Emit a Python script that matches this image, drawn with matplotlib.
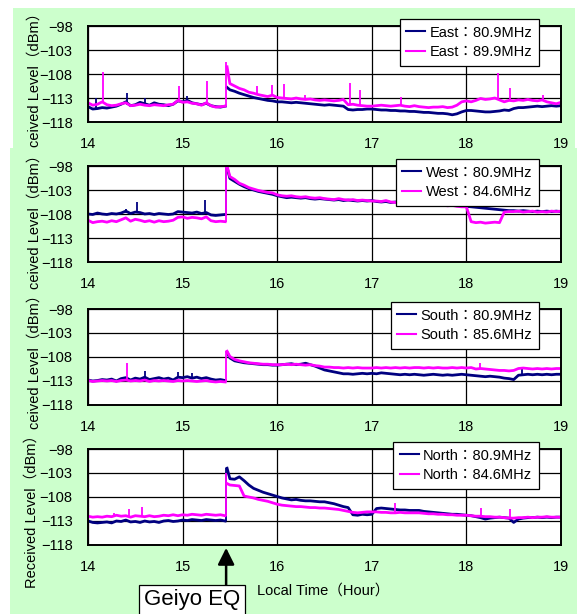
import numpy as np
import matplotlib
matplotlib.use('Agg')
import matplotlib.pyplot as plt
from matplotlib.patches import Rectangle

plt.rcParams['font.family'] = ['Liberation Sans', 'Noto Sans CJK JP', 'DejaVu Sans']

## data (local time in hours, level in dBm)

t_pre = np.arange(14.0, 15.451, 0.05)
t_post = np.concatenate([[15.47], np.arange(15.50, 19.001, 0.05)])
eq_time = 15.46

# East
east1_pre = [-114.8, -115.3, -115.2, -115.0, -115.1, -114.9, -114.7, -114.3, -113.8, -114.6,
             -114.4, -113.9, -114.2, -114.5, -114.0, -114.3, -114.4, -114.6, -114.3, -113.6,
             -113.8, -113.5, -114.0, -114.2, -114.4, -114.1, -114.6, -114.8, -114.9, -114.7]
east1_post = [-110.8,
              -111.3, -111.6, -112.0, -112.3, -112.6, -112.9, -113.1, -113.3, -113.5, -113.6,
              -113.8, -113.8, -113.9, -114.0, -113.9, -114.0, -114.1, -114.2, -114.3, -114.4,
              -114.5, -114.4, -114.5, -114.6, -114.7, -115.4, -115.5, -115.4, -115.4, -115.3,
              -115.3, -115.4, -115.5, -115.5, -115.6, -115.6, -115.7, -115.7, -115.8, -115.8,
              -115.9, -116.0, -116.0, -116.1, -116.2, -116.2, -116.3, -116.5, -116.3, -115.9,
              -115.6, -115.6, -115.7, -115.8, -115.9, -115.9, -115.8, -115.7, -115.5, -115.6,
              -115.2, -115.0, -115.0, -114.9, -114.8, -114.7, -114.8, -114.7, -114.6, -114.7,
              -114.6]
east2_pre = [-114.0, -114.5, -114.3, -113.8, -114.4, -114.6, -114.5, -114.2, -114.0, -114.6,
             -114.5, -114.3, -114.5, -114.6, -114.4, -114.5, -114.6, -114.4, -114.3, -113.5,
             -113.9, -113.8, -114.1, -114.2, -114.5, -114.0, -114.6, -114.9, -114.8, -114.7]
east2_post = [-106.5,
              -110.0, -110.5, -111.0, -111.3, -111.8, -112.0, -112.3, -112.5, -112.7, -112.4,
              -112.9, -113.0, -113.1, -113.2, -113.0, -113.2, -113.3, -113.2, -113.4, -113.5,
              -113.4, -113.5, -113.6, -113.5, -113.3, -114.4, -114.3, -114.5, -114.6, -114.7,
              -114.7, -114.6, -114.5, -114.6, -114.7, -114.6, -114.5, -114.7, -114.8, -114.6,
              -114.8, -114.9, -115.0, -114.9, -114.9, -114.8, -115.0, -114.9, -114.5, -113.8,
              -113.6, -113.8, -113.5, -113.1, -113.3, -113.2, -113.0, -113.4, -113.8, -113.5,
              -113.6, -113.4, -113.5, -113.3, -113.5, -113.6, -113.4, -113.8, -114.0, -114.2,
              -113.9]
east1_spk_t = [14.08, 14.41, 14.60, 15.05]
east1_spk_lo = [-115.2, -114.4, -114.2, -113.6]
east1_spk_hi = [-113.0, -112.0, -112.9, -112.5]
east2_spk_t = [14.16, 14.96, 15.26, eq_time, 15.79, 15.95, 16.07, 16.29, 16.77, 16.87, 17.31, 18.33, 18.46, 18.81]
east2_spk_lo = [-114.0, -113.6, -114.0, -114.7, -112.3, -112.5, -113.0, -113.3, -114.3, -114.5, -114.5, -113.2, -113.5, -113.4]
east2_spk_hi = [-107.6, -110.5, -109.5, -105.5, -110.5, -110.3, -110.0, -112.4, -109.8, -111.3, -112.8, -107.8, -111.0, -112.4]

# West
west1_pre = [-108.0, -108.1, -107.8, -108.0, -108.1, -107.9, -108.0, -107.8, -107.4, -107.9,
             -107.6, -107.7, -108.0, -107.9, -108.1, -107.9, -108.0, -108.1, -108.0, -107.5,
             -107.6, -107.7, -107.8, -107.6, -107.9, -107.7, -108.2, -108.3, -108.2, -108.1]
west1_post = [-98.3,
              -100.6, -101.2, -101.8, -102.3, -102.7, -103.0, -103.3, -103.5, -103.7, -103.9,
              -104.2, -104.4, -104.6, -104.5, -104.6, -104.7, -104.6, -104.8, -104.9, -104.8,
              -104.9, -105.0, -105.1, -105.0, -105.2, -105.1, -105.2, -105.3, -105.2, -105.3,
              -105.2, -105.4, -105.5, -105.4, -105.6, -105.5, -105.7, -105.6, -105.8, -105.7,
              -105.8, -105.9, -105.8, -106.0, -106.1, -106.0, -106.2, -106.1, -106.2, -106.3,
              -106.4, -106.5, -106.6, -106.7, -106.8, -106.9, -107.0, -107.1, -107.2, -107.3,
              -107.3, -107.4, -107.3, -107.4, -107.5, -107.4, -107.5, -107.4, -107.5, -107.4,
              -107.5]
west2_pre = [-109.3, -109.8, -109.6, -109.5, -109.7, -109.4, -109.6, -109.2, -108.8, -109.5,
             -109.1, -109.3, -109.6, -109.4, -109.7, -109.4, -109.6, -109.5, -109.3, -108.7,
             -108.6, -108.9, -108.7, -108.8, -109.0, -108.6, -109.4, -109.6, -109.5, -109.6]
west2_post = [-98.0,
              -100.2, -100.8, -101.6, -102.0, -102.5, -102.8, -103.1, -103.3, -103.5, -103.6,
              -104.0, -104.2, -104.3, -104.2, -104.4, -104.5, -104.4, -104.6, -104.7, -104.6,
              -104.8, -104.9, -105.0, -104.8, -105.0, -105.1, -105.0, -105.2, -105.1, -105.2,
              -105.3, -105.3, -105.4, -105.2, -105.5, -105.6, -105.5, -105.7, -105.6, -105.8,
              -106.0, -105.9, -106.0, -106.1, -106.2, -106.1, -106.3, -106.2, -106.4, -106.5,
              -106.5, -109.6, -109.8, -109.7, -109.9, -109.8, -109.7, -109.8, -107.6, -107.5,
              -107.5, -107.4, -107.6, -107.5, -107.4, -107.6, -107.5, -107.6, -107.4, -107.5,
              -107.4]
west1_spk_t = [14.40, 14.52, 15.24, eq_time]
west1_spk_lo = [-107.8, -107.8, -107.8, -108.1]
west1_spk_hi = [-106.9, -105.6, -105.1, -98.0]
west2_spk_t = [eq_time]
west2_spk_lo = [-109.6]
west2_spk_hi = [-98.0]

# South
south1_pre = [-112.8, -113.0, -112.9, -112.7, -112.8, -112.6, -113.0, -112.5, -112.3, -112.8,
              -112.4, -112.6, -112.2, -112.7, -112.5, -112.3, -112.6, -112.4, -112.8, -112.2,
              -112.3, -112.1, -112.4, -112.2, -112.5, -112.3, -112.6, -112.8, -112.7, -112.9]
south1_post = [-107.0,
               -108.2, -108.8, -109.0, -109.2, -109.3, -109.4, -109.5, -109.6, -109.6, -109.7,
               -109.7, -109.6, -109.5, -109.4, -109.6, -109.5, -109.3, -109.6, -109.9, -110.3,
               -110.7, -110.9, -111.1, -111.3, -111.5, -111.5, -111.6, -111.5, -111.4, -111.5,
               -111.4, -111.5, -111.3, -111.4, -111.5, -111.6, -111.7, -111.6, -111.7, -111.6,
               -111.7, -111.8, -111.7, -111.6, -111.7, -111.8, -111.7, -111.8, -111.7, -111.6,
               -111.7, -111.8, -111.9, -112.0, -112.1, -112.0, -112.1, -112.2, -112.4, -112.5,
               -112.7, -111.8, -111.7, -111.6, -111.7, -111.6, -111.7, -111.6, -111.7, -111.6,
               -111.6]
south2_pre = [-112.9, -113.1, -113.0, -112.9, -113.0, -112.9, -113.1, -112.9, -112.8, -113.0,
              -112.9, -113.0, -112.8, -113.1, -112.9, -113.0, -112.9, -113.0, -113.1, -112.9,
              -113.0, -112.9, -113.0, -113.1, -113.0, -112.9, -113.1, -113.2, -113.1, -113.2]
south2_post = [-106.8,
               -107.9, -108.5, -108.8, -109.0, -109.2, -109.3, -109.4, -109.5, -109.5, -109.6,
               -109.6, -109.6, -109.5, -109.6, -109.5, -109.6, -109.7, -109.6, -109.8, -109.9,
               -110.1, -110.1, -110.2, -110.2, -110.3, -110.2, -110.3, -110.2, -110.3, -110.3,
               -110.3, -110.2, -110.3, -110.2, -110.3, -110.2, -110.3, -110.2, -110.3, -110.2,
               -110.2, -110.3, -110.2, -110.3, -110.2, -110.3, -110.3, -110.2, -110.3, -110.2,
               -110.3, -110.2, -110.5, -110.4, -110.5, -110.6, -110.7, -110.8, -110.8, -110.9,
               -110.8, -110.4, -110.3, -110.4, -110.5, -110.4, -110.5, -110.4, -110.5, -110.4,
               -110.4]
south1_spk_t = [14.60, 14.95, 15.10, 18.59]
south1_spk_lo = [-112.5, -112.3, -112.3, -111.7]
south1_spk_hi = [-111.0, -111.2, -111.3, -110.1]
south2_spk_t = [14.41, eq_time, 18.14]
south2_spk_lo = [-112.9, -113.2, -110.2]
south2_spk_hi = [-109.2, -106.8, -109.2]

# North
north1_pre = [-113.0, -113.3, -113.4, -113.3, -113.2, -113.4, -113.0, -113.1, -112.8, -113.2,
              -113.1, -113.3, -113.0, -113.2, -113.1, -113.3, -113.0, -112.9, -113.1, -113.0,
              -112.8, -112.9, -112.7, -112.8, -112.9, -112.7, -112.8, -112.9, -112.8, -113.0]
north1_post = [-102.0,
               -104.2, -104.3, -103.8, -104.6, -105.5, -106.2, -106.6, -107.0, -107.3, -107.6,
               -107.9, -108.2, -108.4, -108.6, -108.5, -108.7, -108.8, -108.8, -108.9, -109.0,
               -109.0, -109.2, -109.4, -109.7, -110.0, -110.2, -111.7, -111.8, -111.6, -111.7,
               -111.6, -110.4, -110.3, -110.4, -110.5, -110.6, -110.7, -110.7, -110.8, -110.8,
               -110.8, -111.0, -111.1, -111.2, -111.3, -111.4, -111.5, -111.6, -111.6, -111.7,
               -111.8, -111.9, -112.1, -112.3, -112.6, -112.4, -112.3, -112.2, -112.3, -112.4,
               -113.3, -112.6, -112.4, -112.3, -112.3, -112.2, -112.3, -112.2, -112.3, -112.2,
               -112.2]
north2_pre = [-112.0, -112.2, -112.1, -112.2, -112.0, -112.1, -111.8, -112.0, -111.9, -112.2,
              -111.9, -112.0, -112.1, -111.9, -112.1, -112.0, -111.8, -111.9, -111.7, -111.9,
              -111.7, -111.8, -111.6, -111.7, -111.8, -111.6, -111.7, -111.8, -111.7, -111.9]
north2_post = [-105.2,
               -105.5, -105.6, -105.7, -107.8, -108.0, -108.2, -108.5, -108.7, -108.9, -109.2,
               -109.5, -109.7, -109.8, -109.9, -110.0, -110.0, -110.1, -110.2, -110.2, -110.3,
               -110.3, -110.4, -110.5, -110.6, -110.8, -111.0, -111.2, -111.3, -111.2, -111.1,
               -111.1, -111.1, -111.2, -111.2, -111.3, -111.3, -111.2, -111.3, -111.3, -111.3,
               -111.3, -111.4, -111.5, -111.5, -111.6, -111.6, -111.7, -111.7, -111.8, -111.8,
               -111.8, -111.9, -112.0, -112.0, -112.1, -112.1, -112.2, -112.2, -112.3, -112.4,
               -112.4, -112.3, -112.3, -112.2, -112.3, -112.2, -112.2, -112.1, -112.2, -112.2,
               -112.2]
north1_spk_t = [eq_time]
north1_spk_lo = [-113.0]
north1_spk_hi = [-102.0]
north2_spk_t = [14.27, 14.43, 14.57, eq_time, 17.25, 18.15, 18.46]
north2_spk_lo = [-112.0, -112.0, -112.0, -111.9, -111.2, -112.0, -112.3]
north2_spk_hi = [-111.3, -110.5, -110.0, -103.0, -109.3, -110.3, -110.5]

labels1 = ['East：80.9MHz', 'West：80.9MHz', 'South：80.9MHz', 'North：80.9MHz']
labels2 = ['East：89.9MHz', 'West：84.6MHz', 'South：85.6MHz', 'North：84.6MHz']
# the upper three panels are pasted over each other, so only part of their axis title shows
ylabels = ['ceived Level（dBm）', 'ceived Level（dBm）', 'ceived Level（dBm）', 'Received Level（dBm）']

yticks = [-118, -113, -108, -103, -98]
xticks = [14, 15, 16, 17, 18, 19]

## layout (pixels of a 577x614 picture)

W, H = 577, 614
ax_left, ax_right = 88, 561
ax_tops = [26, 166, 309, 449]
ax_h = 96
green = [(13, 8, 575, 148), (10, 148, 577, 292), (10, 292, 577, 430), (10, 430, 577, 614)]
ylab_pos = [(35, 147), (35, 289), (35, 429), (32, 588)]   # x centre, lower end
navy = '#000080'
magenta = '#FF00FF'

fig = plt.figure(figsize=(W/100, H/100), dpi=100)
fig.patch.set_facecolor('white')

for (x0, y0, x1, y1) in green:
    fig.patches.append(Rectangle((x0/W, 1 - y1/H), (x1 - x0)/W, (y1 - y0)/H,
                                 transform=fig.transFigure, fc='#CCFFCC', ec='none', zorder=-5))

panels = [
    (east1_pre, east1_post, east2_pre, east2_post, east1_spk_t, east1_spk_lo, east1_spk_hi, east2_spk_t, east2_spk_lo, east2_spk_hi),
    (west1_pre, west1_post, west2_pre, west2_post, west1_spk_t, west1_spk_lo, west1_spk_hi, west2_spk_t, west2_spk_lo, west2_spk_hi),
    (south1_pre, south1_post, south2_pre, south2_post, south1_spk_t, south1_spk_lo, south1_spk_hi, south2_spk_t, south2_spk_lo, south2_spk_hi),
    (north1_pre, north1_post, north2_pre, north2_post, north1_spk_t, north1_spk_lo, north1_spk_hi, north2_spk_t, north2_spk_lo, north2_spk_hi),
]

lw = 2.0
axes = []
for i, p in enumerate(panels):
    a_pre, a_post, b_pre, b_post, a_st, a_lo, a_hi, b_st, b_lo, b_hi = p
    top = ax_tops[i]
    ax = fig.add_axes([ax_left/W, 1 - (top + ax_h)/H, (ax_right - ax_left)/W, ax_h/H])
    ax.set_facecolor('white')

    ax.plot(t_pre, a_pre, color=navy, linewidth=lw, label=labels1[i])
    ax.plot(t_post, a_post, color=navy, linewidth=lw)
    ax.vlines(a_st, a_lo, a_hi, color=navy, linewidth=1.3)
    ax.plot(t_pre, b_pre, color=magenta, linewidth=lw, label=labels2[i])
    ax.plot(t_post, b_post, color=magenta, linewidth=lw)
    ax.vlines(b_st, b_lo, b_hi, color=magenta, linewidth=1.3)

    ax.set_xlim(14, 19)
    ax.set_ylim(-118, -98)
    ax.set_xticks(xticks)
    ax.set_yticks(yticks)
    ax.grid(True, color='black', linewidth=0.9)
    ax.set_axisbelow(True)
    for s in ax.spines.values():
        s.set_linewidth(1.4)
    ax.tick_params(length=0, pad=11, labelsize=10.5)

    lx, ly = ylab_pos[i]
    fig.text(lx/W, 1 - ly/H, ylabels[i], rotation=90, fontsize=10.5, ha='center', va='bottom')

    leg = ax.legend(loc='upper right', bbox_to_anchor=(0.953, 1.073), fancybox=False,
                    edgecolor='black', framealpha=1, fontsize=10.5, handlelength=1.3,
                    handletextpad=0.3, borderpad=0.45, labelspacing=0.4, borderaxespad=0)
    leg.get_frame().set_linewidth(0.9)
    for h in leg.get_lines():
        h.set_linewidth(1.5)
    axes.append(ax)

fig.text(323/W, 1 - 591/H, 'Local Time（Hour）', fontsize=10.5, ha='center', va='center')

# earthquake marker
ax4 = axes[3]
ax4.annotate('', xy=(eq_time, -0.03), xycoords=('data', 'axes fraction'),
             xytext=(eq_time, -0.43), textcoords=('data', 'axes fraction'),
             arrowprops=dict(arrowstyle='-|>,head_length=1.0,head_width=0.5', color='black',
                             linewidth=1.8, shrinkA=0, shrinkB=0))
fig.text(192/W, 1 - 600/H, 'Geiyo EQ', fontsize=16, ha='center', va='center',
         bbox=dict(boxstyle='square,pad=0.22', fc='white', ec='black', linewidth=0.9))

plt.savefig('out.png', dpi=100)
